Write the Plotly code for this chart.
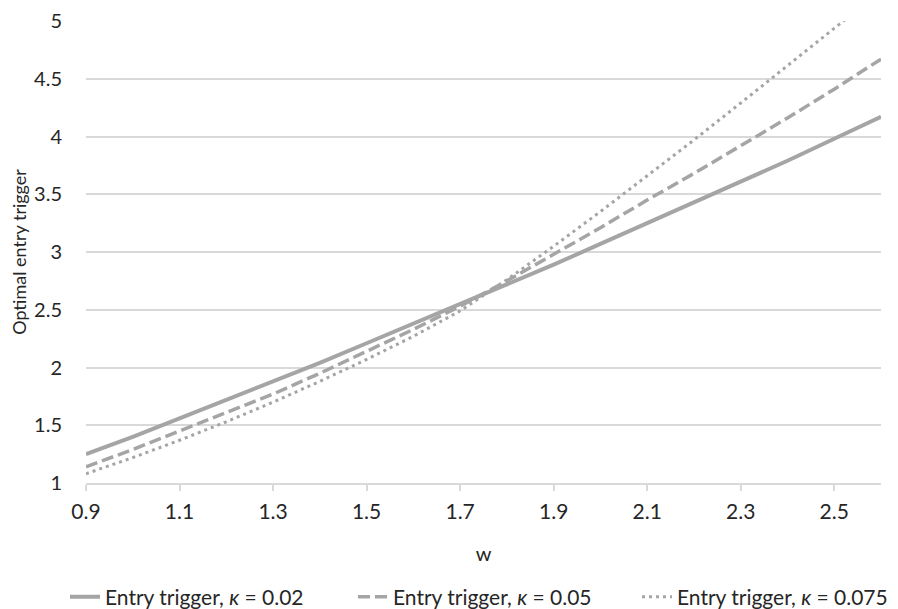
import plotly.graph_objects as go

w = [0.9, 1.0, 1.1, 1.2, 1.3, 1.4, 1.5, 1.6, 1.7, 1.8, 1.9, 2.0, 2.1, 2.2, 2.3, 2.4, 2.5, 2.6]

trigger_k002 = [1.25, 1.40, 1.56, 1.72, 1.88, 2.04, 2.21, 2.38, 2.55, 2.72, 2.89, 3.07, 3.25, 3.43, 3.61, 3.79, 3.98, 4.17]
trigger_k005 = [1.14, 1.29, 1.45, 1.61, 1.77, 1.95, 2.14, 2.33, 2.53, 2.75, 2.98, 3.21, 3.45, 3.68, 3.92, 4.16, 4.41, 4.67]
trigger_k0075 = [1.08, 1.22, 1.37, 1.53, 1.70, 1.88, 2.07, 2.27, 2.49, 2.76, 3.05, 3.35, 3.66, 3.97, 4.29, 4.61, 4.93, 5.26]

names = ["Entry trigger, <i>κ</i> = 0.02",
         "Entry trigger, <i>κ</i> = 0.05",
         "Entry trigger, <i>κ</i> = 0.075"]

x_ticks = [0.9, 1.1, 1.3, 1.5, 1.7, 1.9, 2.1, 2.3, 2.5]
x_tick_labels = ["0.9", "1.1", "1.3", "1.5", "1.7", "1.9", "2.1", "2.3", "2.5"]
y_ticks = [1, 1.5, 2, 2.5, 3, 3.5, 4, 4.5, 5]
y_tick_labels = ["1", "1.5", "2", "2.5", "3", "3.5", "4", "4.5", "5"]

line_color = "#a5a5a5"
text_color = "#262626"
font_family = "Lato"

W, H = 890, 601  # page body has an 8px margin

fig = go.Figure()
fig.add_trace(go.Scatter(x=w, y=trigger_k002, mode="lines", name=names[0], legend="legend",
                         line=dict(color=line_color, width=4)))
fig.add_trace(go.Scatter(x=w, y=trigger_k005, mode="lines", name=names[1], legend="legend2",
                         line=dict(color=line_color, width=3.5, dash="12px,5px")))
fig.add_trace(go.Scatter(x=w, y=trigger_k0075, mode="lines", name=names[2], legend="legend3",
                         line=dict(color=line_color, width=3, dash="3px,4px")))

def legend_at(left_px, size=21):
    return dict(orientation="h", xref="container", yref="container",
                x=(left_px - 8) / W, xanchor="left", y=1 - (589 / H), yanchor="middle",
                font=dict(size=size, color=text_color), itemwidth=30,
                bgcolor="rgba(0,0,0,0)")

leg3 = legend_at(644, size=21)
leg3.update(x=1.0, xanchor="right", entrywidth=216, entrywidthmode="pixels")

fig.update_layout(
    width=W, height=H,
    margin=dict(l=78, r=17, t=13, b=126, autoexpand=False),
    paper_bgcolor="white", plot_bgcolor="white",
    font=dict(family=font_family, size=21, color=text_color),
    showlegend=True,
    legend=legend_at(65),
    legend2=legend_at(353),
    legend3=leg3,
)
fig.update_xaxes(
    range=[0.9, 2.6], tickvals=x_ticks, ticktext=x_tick_labels,
    showgrid=False, zeroline=False, automargin=False,
    showline=True, linecolor="#d9d9d9", linewidth=1.5,
    ticks="outside", ticklen=6, tickcolor="#d9d9d9", tickwidth=1.5,
    ticklabelstandoff=3, ticklabeloverflow="allow",
    tickfont=dict(size=21, color=text_color),
    title=dict(text="w", font=dict(size=20, color=text_color), standoff=25),
)
fig.update_yaxes(
    range=[1, 5], tickvals=y_ticks, ticktext=y_tick_labels,
    showgrid=True, gridcolor="#d9d9d9", gridwidth=1.5,
    zeroline=False, showline=False, automargin=False,
    ticks="outside", ticklen=19, tickcolor="rgba(0,0,0,0)",
    ticklabeloverflow="allow",
    tickfont=dict(size=20, color=text_color),
    title=dict(text="Optimal entry trigger", font=dict(size=18, color=text_color), standoff=10),
)

fig.write_html("out.html")
